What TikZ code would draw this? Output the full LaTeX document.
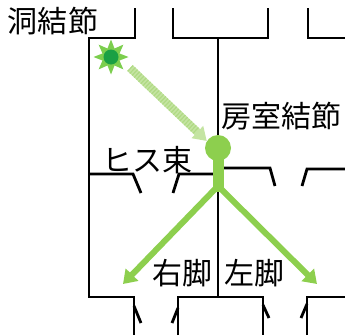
\documentclass[tikz,border=0pt]{standalone}
\usepackage{fontspec}
\newfontfamily\jpfont{Noto Sans CJK JP}
\usetikzlibrary{arrows.meta,shapes.geometric}
\definecolor{sagreen}{RGB}{124,206,78}
\definecolor{sadark}{RGB}{26,160,68}
\definecolor{cond}{RGB}{141,207,78}
\definecolor{pale}{RGB}{196,228,162}
\definecolor{paledark}{RGB}{176,218,132}

\begin{document}
\begin{tikzpicture}[x=1pt,y=-1pt,
    wall/.style={line width=2.8pt},
    lbl/.style={font=\jpfont\fontsize{30}{30}\selectfont,inner sep=0pt},
    branch/.style={cond,line width=6pt,-{Triangle[length=13pt,width=17pt]}},
    conduct/.style={pale,line width=8pt,-{Triangle[length=13pt,width=16pt]},
      postaction={draw=paledark,line width=8pt,dash pattern=on 1.2pt off 1.8pt,
        shorten >=13pt,-}}]
  \useasboundingbox (0,0) rectangle (345,335);
  % walls
  \draw[wall] (135,8) -- (135,38) -- (89,38) -- (89,297) -- (134,297) -- (134,335);
  \draw[wall] (134,306) -- (141,323);
  \draw[wall] (173,8) -- (173,38) -- (268,38) -- (268,8);
  \draw[wall] (308,8) -- (308,38) -- (345,38);
  \draw[wall] (218,38) -- (218,297);
  \draw[wall] (89,174) -- (133,174) -- (141,193);
  \draw[wall] (173,193) -- (179,174) -- (218,174);
  \draw[wall] (218,168) -- (270,168) -- (275,186);
  \draw[wall] (302,186) -- (307,169) -- (345,169);
  \draw[wall] (178,335) -- (178,297) -- (263,297) -- (263,335);
  \draw[wall] (178,308) -- (172,323);
  \draw[wall] (263,305) -- (269,318);
  \draw[wall] (307,335) -- (307,297) -- (345,297);
  \draw[wall] (307,304) -- (301,318);
  % nodes
  \node[star,star points=8,star point ratio=1.9,minimum size=35pt,
    inner sep=0pt,fill=sagreen] (sa) at (111,57) {};
  \fill[sadark] (sa.center) circle(7.5);
  \node[circle,fill=cond,minimum size=26pt,inner sep=0pt] (av) at (218,148) {};
  \coordinate (his) at (218,186);
  \coordinate (rbb) at (123,284);
  \coordinate (lbb) at (317,284);
  % conduction
  \draw[conduct] ([shift={(19,11)}]sa.center) -- (av.148);
  \draw[cond,line width=11pt] (av.center) -- (218,192);
  \draw[branch] (his) -- (rbb);
  \draw[branch] (his) -- (lbb);
  % labels
  \node[lbl] (san) at (53,21) {洞結節};
  \node[lbl] (avn) at (281,116) {房室結節};
  \node[lbl] (hisl) at (147,160) {ヒス束};
  \node[lbl] (rbl) at (182,273) {右脚};
  \node[lbl] (lbl) at (254,273) {左脚};
\end{tikzpicture}
\end{document}
